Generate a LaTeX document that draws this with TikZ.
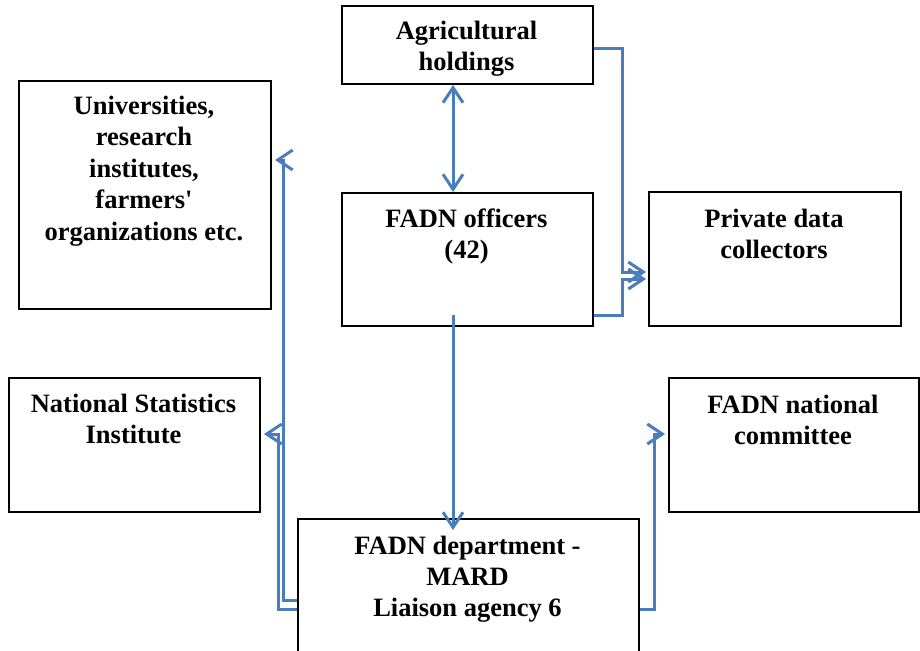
\documentclass[tikz,border=0pt]{standalone}
\usepackage{fontspec}
\setmainfont{Liberation Serif}
\usetikzlibrary{arrows.meta}
\definecolor{cblue}{RGB}{74,126,187}
\begin{document}
\begin{tikzpicture}[x=1pt,y=-1pt,
  box/.style={draw=black,line width=2pt,rectangle,inner sep=0pt,anchor=north west},
  lbl/.style={align=center,anchor=base,inner sep=0pt,font=\fontsize{26.5}{30.8}\selectfont\bfseries},
  conn/.style={draw=cblue,line width=3pt},
  barb/.tip={Straight Barb[length=15pt,width=20pt,line width=3pt]},
  tip/.style={-barb,shorten >=2pt}]
\clip (0,0) rectangle (920,650);
\fill[white] (0,0) rectangle (920,650);
% boxes
\node[box,minimum width=251pt,minimum height=78pt] (hold) at (341,5) {};
\node[box,minimum width=252pt,minimum height=228pt] (univ) at (18,80) {};
\node[box,minimum width=251pt,minimum height=133pt] (off) at (341,192) {};
\node[box,minimum width=252pt,minimum height=134pt] (priv) at (648,191) {};
\node[box,minimum width=251pt,minimum height=134pt] (nsi) at (8,377) {};
\node[box,minimum width=250pt,minimum height=134pt] (comm) at (668,377) {};
\node[box,minimum width=341pt,minimum height=142pt] (dept) at (297,518) {};
% texts (anchor = baseline of last line)
\node[lbl] (holdT) at (466.5,70.7) {Agricultural\\holdings};
\node[lbl,font=\fontsize{26.5}{31.5}\selectfont\bfseries] (univT) at (144,240) {Universities,\\research\\institutes,\\farmers\textquotesingle\\organizations etc.};
\node[lbl] (offT) at (466.5,258) {FADN officers\\(42)};
\node[lbl] (privT) at (774,258) {Private data\\collectors};
\node[lbl] (nsiT) at (133.5,443.5) {National Statistics\\Institute};
\node[lbl] (commT) at (793,444) {FADN national\\committee};
\node[lbl] (deptT) at (467.5,616) {FADN department -\\MARD\\Liaison agency 6};
% connectors
\coordinate (xa) at (453,0);
\draw[conn,barb-barb] (hold.south -| xa) -- (off.north -| xa);
\draw[conn,-barb] ([yshift=12pt]off.south -| xa) -- ([yshift=-12pt]dept.north -| xa);
\draw[conn,tip] ([yshift=-4pt]hold.east) -- ++(28,0) |- ([yshift=-13pt]priv.west);
\draw[conn,tip] ([yshift=12pt]off.south east) -- ++(28,0) |- ([yshift=-20pt]priv.west);
\draw[conn,tip,shorten >=3pt] ([yshift=-10pt]dept.west) -- ++(-14,0) |- ([yshift=35pt]univ.east);
\draw[conn,tip,shorten >=3pt] ([yshift=-19pt]dept.west) -- ++(-19,0) |- ([yshift=11pt]nsi.east);
\draw[conn,tip,shorten >=3pt] ([yshift=-19pt]dept.east) -- ++(14,0) |- ([yshift=11pt]comm.west);
\end{tikzpicture}
\end{document}
